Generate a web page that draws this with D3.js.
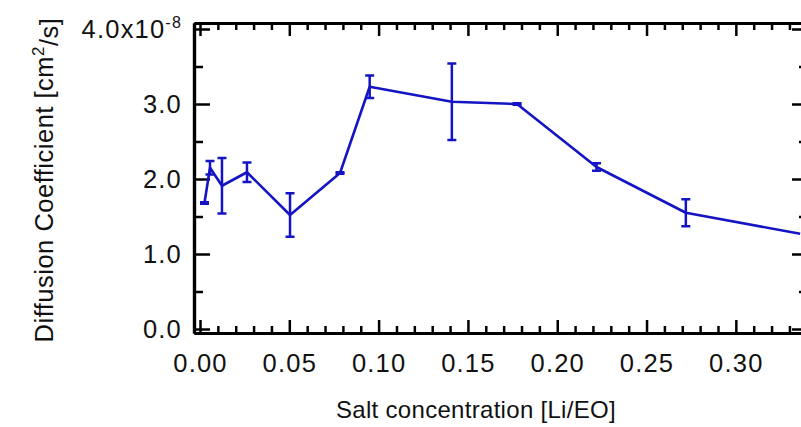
<!DOCTYPE html>
<html>
<head>
<meta charset="utf-8">
<script src="https://cdn.jsdelivr.net/npm/d3@7"></script>
<style>
  body { margin: 0; background: #fff; }
  svg { display: block; }
  text { font-family: "Liberation Sans", Arial, sans-serif; fill: #111; }
  .axis path, .axis line { stroke: #000; }
</style>
</head>
<body>
<div id="chart"></div>
<script>
// salt concentration [Li/EO]
const saltConc = [0.0025, 0.0056, 0.0123, 0.0263, 0.0504, 0.0784, 0.095, 0.141, 0.1775, 0.222, 0.272, 0.336];
// diffusion coefficient, in units of 1e-8 cm2/s
const diffCoef = [1.68, 2.15, 1.91, 2.09, 1.52, 2.08, 3.23, 3.03, 3.00, 2.16, 1.55, 1.27];
// error bar half-widths, same units
const diffErr  = [0.01, 0.09, 0.37, 0.13, 0.29, 0.01, 0.15, 0.51, 0.01, 0.05, 0.18, 0.0];

const xTicks = [0, 0.05, 0.10, 0.15, 0.20, 0.25, 0.30];
const yTicks = [0, 1, 2, 3, 4];

const width = 801, height = 427;
const plotL = 194, plotR = 808, plotT = 23, plotB = 333;

const svg = d3.select("#chart")
  .append("svg")
    .attr("width", width)
    .attr("height", height);

const xScale = d3.scaleLinear()
  .domain([-0.00336, 0.3404])
  .range([plotL, plotR]);

const yScale = d3.scaleLinear()
  .domain([-0.0533, 4.08])
  .range([plotB, plotT]);

// minor ticks: every 0.01 on x, every 0.5 on y
const xMinor = d3.range(1, 35).filter(i => i % 5 !== 0).map(i => i / 100);
const yMinor = [0.5, 1.5, 2.5, 3.5];

function tickAxis(axisFn, scale, values, size) {
  return axisFn(scale).tickValues(values).tickSize(-size).tickSizeOuter(0).tickFormat("");
}

// bottom axis
svg.append("g").attr("class", "axis").attr("transform", `translate(0,${plotB})`)
  .call(tickAxis(d3.axisBottom, xScale, xMinor, 7));
svg.append("g").attr("class", "axis").attr("transform", `translate(0,${plotB})`)
  .call(d3.axisBottom(xScale).tickValues(xTicks).tickSize(-13).tickSizeOuter(0).tickPadding(21)
        .tickFormat(d3.format(".2f")));
// top axis
svg.append("g").attr("class", "axis").attr("transform", `translate(0,${plotT})`)
  .call(tickAxis(d3.axisTop, xScale, xMinor, 7));
svg.append("g").attr("class", "axis").attr("transform", `translate(0,${plotT})`)
  .call(tickAxis(d3.axisTop, xScale, xTicks, 13));
// left axis
svg.append("g").attr("class", "axis").attr("transform", `translate(${plotL},0)`)
  .call(tickAxis(d3.axisLeft, yScale, yMinor, 9));
const yAxisG = svg.append("g").attr("class", "axis y").attr("transform", `translate(${plotL},0)`)
  .call(d3.axisLeft(yScale).tickValues(yTicks).tickSize(-16).tickSizeOuter(0).tickPadding(12)
        .tickFormat(d3.format(".1f")));
// right axis
svg.append("g").attr("class", "axis").attr("transform", `translate(${plotR},0)`)
  .call(tickAxis(d3.axisRight, yScale, yMinor, 9));
svg.append("g").attr("class", "axis").attr("transform", `translate(${plotR},0)`)
  .call(tickAxis(d3.axisRight, yScale, yTicks, 16));

svg.selectAll(".axis path.domain").attr("stroke-width", 3.2);
svg.selectAll(".axis line").attr("stroke-width", 2.5);
svg.selectAll(".axis text")
  .style("font-size", "25.5px")
  .style("letter-spacing", "1.2px")
  .style("font-family", "Liberation Sans, Arial, sans-serif")
  .attr("fill", "#111");

// top y label gets the exponent
yAxisG.selectAll(".tick text")
  .filter(d => d === 4)
  .each(function() {
    const self = d3.select(this);
    self.text("4.0x10");
    self.append("tspan")
      .attr("dy", "-0.6em")
      .style("font-size", "16px")
      .text("-8");
  });

// line
const pts = saltConc.map((x, i) => ({x: x, y: diffCoef[i], e: diffErr[i]}));
const blue = "#1414c4";

svg.append("path")
  .datum(pts)
  .attr("fill", "none")
  .attr("stroke", blue)
  .attr("stroke-width", 2.6)
  .attr("stroke-linejoin", "round")
  .attr("d", d3.line().x(d => xScale(d.x)).y(d => yScale(d.y)));

// error bars
const capW = 4.5;
const errG = svg.selectAll(".err")
  .data(pts.filter(d => d.e > 0))
  .enter()
  .append("g")
  .attr("class", "err")
  .attr("stroke", blue)
  .attr("stroke-width", 2.5);

errG.append("line")
  .attr("x1", d => xScale(d.x)).attr("x2", d => xScale(d.x))
  .attr("y1", d => yScale(d.y - d.e)).attr("y2", d => yScale(d.y + d.e));
errG.append("line")
  .attr("x1", d => xScale(d.x) - capW).attr("x2", d => xScale(d.x) + capW)
  .attr("y1", d => yScale(d.y + d.e)).attr("y2", d => yScale(d.y + d.e));
errG.append("line")
  .attr("x1", d => xScale(d.x) - capW).attr("x2", d => xScale(d.x) + capW)
  .attr("y1", d => yScale(d.y - d.e)).attr("y2", d => yScale(d.y - d.e));

// axis titles
svg.append("text")
  .attr("x", 476)
  .attr("y", 418)
  .attr("text-anchor", "middle")
  .style("font-size", "24px")
  .style("letter-spacing", "0.3px")
  .text("Salt concentration [Li/EO]");

const yTitle = svg.append("text")
  .attr("transform", "translate(53,180) rotate(-90)")
  .attr("text-anchor", "middle")
  .style("font-size", "25.5px")
  .style("letter-spacing", "0.5px");
yTitle.append("tspan").text("Diffusion Coefficient [cm");
yTitle.append("tspan").attr("dy", "-0.55em").style("font-size", "17px").text("2");
yTitle.append("tspan").attr("dy", "0.55em").text("/s]");
</script>
</body>
</html>
